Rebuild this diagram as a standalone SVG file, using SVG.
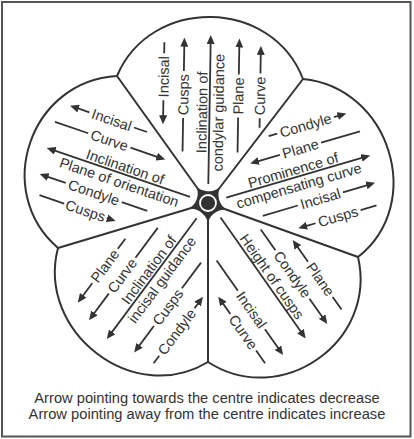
<svg xmlns="http://www.w3.org/2000/svg" width="414" height="439" viewBox="0 0 414 439">
<defs>
<marker id="ah" viewBox="0 0 9 8" refX="2" refY="4" markerWidth="9" markerHeight="8" markerUnits="userSpaceOnUse" orient="auto"><path d="M0,0 L9,4 L0,8 Z" fill="#333"/></marker>
</defs>
<style>
.ln{stroke:#333;stroke-width:1.8;fill:none}
.ar{marker-end:url(#ah)}
.t{font-family:"Liberation Sans",Arial,sans-serif;font-size:14.5px;fill:#333;text-anchor:middle}
.ol{stroke:#333;stroke-width:2;fill:none}
.cap{font-family:"Liberation Sans",Arial,sans-serif;font-size:14.7px;fill:#333;text-anchor:middle}
</style>
<rect width="414" height="439" fill="#fff"/>
<rect x="2" y="2" width="408.5" height="434.5" fill="none" stroke="#555" stroke-width="2"/>

<g id="outline">
<path class="ol" d="M117,76 C150.9,-4.1 271.8,-2.2 303,79 C389.6,87.5 426.2,203.1 358,257 C377.7,341.7 281.1,409.2 208,362 C133.7,407.2 36,332.1 58,248 C-7.9,191.1 30.2,80.8 117,76 Z"/>
</g>
<g id="spokes">
<path class="ol" d="M208,203 L117,76 M208,203 L303,79 M208,203 L358,257 M208,203 L208,362 M208,203 L58,248"/>
</g>
<g id="hub">
<path fill="#333" d="M195.17,185.11 C201,193.24 215.3,193.47 221.38,185.53 C215.3,193.47 219.29,207.07 228.7,210.46 C219.29,207.07 208,215 208,225 C208,215 196.5,206.44 186.92,209.31 C196.5,206.44 201,193.24 195.17,185.11 Z"/>
<circle cx="208" cy="203" r="8" fill="none" stroke="#fff" stroke-width="1.8"/>
</g>

<g id="petal-top" transform="translate(208,203) rotate(-89.05)">
<path class="ln ar" d="M102,-46.3 H85"/><path class="ln" d="M149,-46.3 H160"/><text class="t" x="125.5" y="-41.3">Incisal</text>
<path class="ln" d="M51,-26.3 H84.5"/><path class="ln ar" d="M131.5,-26.3 H158"/><text class="t" x="108" y="-21.3">Cusps</text>
<path class="ln ar" d="M19,0 H161"/><text class="t" x="90.5" y="-2.5">Inclination of</text><text class="t" x="90.5" y="14">condylar guidance</text>
<path class="ln" d="M51,28.7 H86"/><path class="ln ar" d="M129,28.7 H158"/><text class="t" x="107.5" y="33.7">Plane</text>
<path class="ln" d="M76,50.3 H85.7"/><path class="ln ar" d="M130.3,50.3 H151"/><text class="t" x="108" y="55.3">Curve</text>
</g>

<g id="petal-upper-right" transform="translate(208,203) rotate(-16.35)">
<path class="ln" d="M77,-47 H85.9"/><path class="ln ar" d="M145.1,-47 H151"/><text class="t" x="115.5" y="-42">Condyle</text>
<path class="ln ar" d="M82.5,-26 H58.5"/><path class="ln" d="M125.5,-26 H166"/><text class="t" x="104" y="-21">Plane</text>
<path class="ln ar" d="M19,0 H162"/><text class="t" x="91" y="-2.5">Prominence of</text><text class="t" x="92" y="14">compensating curve</text>
<path class="ln" d="M49,27.7 H85.5"/><path class="ln ar" d="M132.5,27.7 H159"/><text class="t" x="109" y="32.7">Incisal</text>
<path class="ln ar" d="M97.5,49.7 H86.5"/><path class="ln" d="M144.5,49.7 H161"/><text class="t" x="121" y="54.7">Cusps</text>
</g>

<g id="petal-lower-right" transform="translate(208,203) rotate(54.9)">
<path class="ln ar" d="M105.5,-48 H86"/><path class="ln" d="M148.5,-48 H164"/><text class="t" x="127" y="-43">Plane</text>
<path class="ln" d="M52,-28 H77.4"/><path class="ln ar" d="M136.6,-28 H160.6"/><text class="t" x="107" y="-23">Condyle</text>
<path class="ln ar" d="M19,-2 H160"/><text class="t" x="97" y="-5">Height of cusps</text>
<path class="ln" d="M52,26 H89"/><path class="ln ar" d="M136,26 H160.6"/><text class="t" x="112.5" y="31">Incisal</text>
<path class="ln ar" d="M103.6,45.5 H89.5"/><path class="ln" d="M148.4,45.5 H164"/><text class="t" x="126" y="50.5">Curve</text>
</g>

<g id="petal-lower-left" transform="translate(208,203) rotate(-53.35)">
<path class="ln" d="M-90.5,-45 H-78"/><path class="ln ar" d="M-133.5,-45 H-150.7"/><text class="t" x="-112" y="-40">Plane</text>
<path class="ln" d="M-87.2,-25.5 H-50"/><path class="ln ar" d="M-131.9,-25.5 H-158"/><text class="t" x="-109.5" y="-20.5">Curve</text>
<path class="ln ar" d="M-19,0 H-162.5"/><text class="t" x="-89" y="-2.5">Inclination of</text><text class="t" x="-89" y="14">incisal guidance</text>
<path class="ln" d="M-84,30 H-52"/><path class="ln ar" d="M-131,30 H-157"/><text class="t" x="-107.5" y="35">Cusps</text>
<path class="ln ar" d="M-92.4,52 H-85.3"/><path class="ln" d="M-151.6,52 H-161"/><text class="t" x="-122" y="57">Condyle</text>
</g>

<g id="petal-upper-left" transform="translate(208,203) rotate(18.85)">
<path class="ln" d="M-94.5,-47.5 H-80.6"/><path class="ln ar" d="M-141.5,-47.5 H-155"/><text class="t" x="-118" y="-42.5">Incisal</text>
<path class="ln ar" d="M-91.2,-27.3 H-61.5"/><path class="ln" d="M-135.9,-27.3 H-171"/><text class="t" x="-113.5" y="-22.3">Curve</text>
<path class="ln ar" d="M-19,0 H-163.4"/><text class="t" x="-90" y="-2.5">Inclination of</text><text class="t" x="-90.8" y="14">Plane of orientation</text>
<path class="ln" d="M-81.9,27 H-55"/><path class="ln ar" d="M-141.1,27 H-161.7"/><text class="t" x="-111.5" y="32">Condyle</text>
<path class="ln ar" d="M-91,47 H-88.6"/><path class="ln" d="M-136,47 H-162"/><text class="t" x="-113.5" y="52">Cusps</text>
</g>

<g id="caption">
<text class="cap" x="207" y="403">Arrow pointing towards the centre indicates decrease</text>
<text class="cap" x="207" y="418.5">Arrow pointing away from the centre indicates increase</text>
</g>
</svg>
